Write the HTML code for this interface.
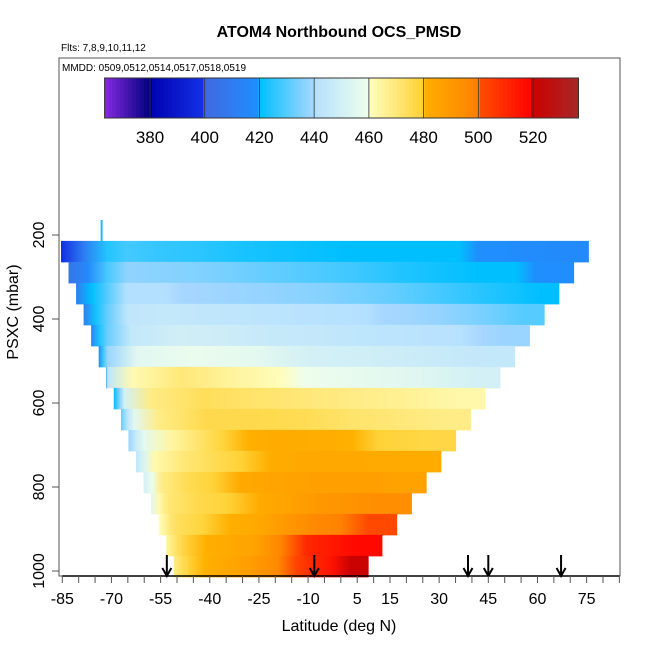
<!DOCTYPE html>
<html><head><meta charset="utf-8"><style>
html,body{margin:0;padding:0;background:#fff;}
svg{display:block;font-family:"Liberation Sans",Arial,sans-serif;}
</style></head><body>
<svg id="chart" width="650" height="650" viewBox="0 0 650 650">
<text x="339" y="37" text-anchor="middle" font-size="16" font-weight="bold">ATOM4 Northbound OCS_PMSD</text>
<text x="61" y="51" font-size="10">Flts: 7,8,9,10,11,12</text>
<g id="plot"></g>
<g id="cbar"></g>
<rect x="59" y="58" width="561" height="518" fill="none" stroke="#555" stroke-width="1"/>
<text x="62" y="71" font-size="10">MMDD: 0509,0512,0514,0517,0518,0519</text>
<g id="axes"></g>
<text x="339" y="631" text-anchor="middle" font-size="16">Latitude (deg N)</text>
<text transform="translate(18,312) rotate(-90)" text-anchor="middle" font-size="16">PSXC (mbar)</text>
</svg>
<script>
// ---- data ----
const rowTopP = [214,264,314,364,414,464,514,564,614,664,714,764,814,864,914,964];
const rowLeftLat = [-85.4,-83.1,-80.8,-78.5,-76.2,-73.9,-71.6,-69.3,-67.1,-64.8,-62.5,-60.2,-57.9,-55.6,-53.3,-51.0];
const rowRightLat = [75.5,71.0,66.5,62.0,57.5,53.0,48.5,44.0,39.5,35.0,30.5,26.0,21.5,17.0,12.5,8.3];
const edgeEndLat = [-71.2,-71.2,-71.2,-71.2,-71.2,-71.2,-71.2,-66,-63,-60,-57,-55,-53,-51,-49,-47];
const edgeStart = [398,405,410,412,414,415,416,420,432,438,444,450,455,460,464,468];
const edgeEnd   = [420,420,420,420,420,421,424,432,442,448,455,460,464,468,472,476];
const rowValues = [
 [428,426,425,423,422,421,420,420,420,420,419,418,417],
 [437,436,435,433,431,429,427,424,422,420,420,419],
 [440,440,439,438,437,436,434,432,429,426,423,420],
 [444,445,444,443,442,441,440,439,437,434,430],
 [445,449,448,446,445,443,442,441,438],
 [455,458,456,450,449,447,445],
 [462,470,465,461,458,456,454,450],
 [468,474,472,470,468,466,463],
 [468,476,476,475,472,470,468],
 [464,478,482,481,479,477],
 [470,479,483,483,482],
 [475,483,486,487,486],
 [476,482,490,494],
 [478,483,496,502],
 [480,486,510,518],
 [480,486,496,510,521]
];
const arrowLats = [-53.1,-8.1,38.8,45.0,67.2];
const xTicks = [-85,-70,-55,-40,-25,-10,5,15,30,45,60,75];
const yTicks = [200,400,600,800,1000];
const cbTicks = [380,400,420,440,460,480,500,520];
const cbMin = 363.4, cbMax = 536.6;

// ---- scales ----
const xs = lat => 62.3 + (lat + 85) * 3.277;
const ys = p => 235 + (p - 200) * 0.42;
const cbx = v => 150 + (v - 380) * 2.736;
const NS = "http://www.w3.org/2000/svg";
function mk(tag, attrs, parent) { const e = document.createElementNS(NS, tag); for (const k in attrs) e.setAttribute(k, attrs[k]); parent.appendChild(e); return e; }

const segs = [
 [363,380,[138,43,226],[0,0,128]],
 [380,400,[0,0,176],[20,50,230]],
 [400,420,[65,105,225],[30,144,255]],
 [420,440,[0,191,255],[170,215,255]],
 [440,460,[180,224,255],[240,255,235]],
 [460,480,[255,255,192],[255,208,48]],
 [480,500,[255,176,0],[255,128,0]],
 [500,520,[255,80,0],[255,0,0]],
 [520,537,[205,0,0],[165,42,42]]
];
function col(v) {
  let s = segs[0];
  for (const g of segs) if (v >= g[0]) s = g;
  let t = (v - s[0]) / (s[1] - s[0]); t = Math.max(0, Math.min(1, t));
  const c = s[2].map((a, i) => Math.round(a + (s[3][i] - a) * t));
  return `rgb(${c[0]},${c[1]},${c[2]})`;
}

// ---- plot cells ----
const plot = document.getElementById('plot');
const defs = mk('defs', {}, plot);
function grad(id, a, b) {
  const lg = mk('linearGradient', { id: id, x1: 0, x2: 1, y1: 0, y2: 0 }, defs);
  mk('stop', { offset: 0, 'stop-color': col(a) }, lg);
  mk('stop', { offset: 0.5, 'stop-color': col((a + b) / 2) }, lg);
  mk('stop', { offset: 1, 'stop-color': col(b) }, lg);
}
rowTopP.forEach((p, r) => {
  const y0 = ys(p), y1 = ys(p + 50);
  const xl = xs(rowLeftLat[r]), xe = xs(edgeEndLat[r]), xr = xs(rowRightLat[r]);
  const vals = rowValues[r];
  grad('eg' + r, edgeStart[r], (edgeEnd[r] + vals[0]) / 2);
  const e = mk('rect', { x: xl, y: y0, width: Math.max(0, xe - xl), height: y1 - y0 + 0.5, fill: `url(#eg${r})` }, plot);
  
  
  const w = (xr - xe) / vals.length;
  vals.forEach((v, i) => {
    const prev = i === 0 ? (edgeEnd[r] + v) / 2 : (vals[i - 1] + v) / 2;
    const next = i === vals.length - 1 ? v : (vals[i + 1] + v) / 2;
    const id = 'cg' + r + '_' + i;
    const lg = mk('linearGradient', { id: id, x1: 0, x2: 1, y1: 0, y2: 0 }, defs);
    mk('stop', { offset: 0, 'stop-color': col(prev) }, lg);
    mk('stop', { offset: 0.5, 'stop-color': col(v) }, lg);
    mk('stop', { offset: 1, 'stop-color': col(next) }, lg);
    const c = mk('rect', { x: xe + i * w, y: y0, width: w + 0.6, height: y1 - y0 + 0.5, fill: `url(#${id})` }, plot);
    
    
  });
});
const mark = mk('line', { x1: xs(-73), x2: xs(-73), y1: 220, y2: 241, stroke: '#22bbee', 'stroke-width': 2 }, plot);



// arrows
const axes = document.getElementById('axes');
arrowLats.forEach((lat, i) => {
  const x = xs(lat);
  const g = mk('g', { stroke: '#000', 'stroke-width': 2, fill: 'none' }, axes);
  
  
  mk('line', { x1: x, x2: x, y1: 555, y2: 576 }, g);
  mk('polyline', { points: `${x - 4.5},568 ${x},576 ${x + 4.5},568` }, g);
});

const xl = mk('line', { x1: xs(-85), x2: xs(85), y1: 576, y2: 576, stroke: '#000', 'stroke-width': 1.5 }, axes);


for (let lat = -85; lat <= 85; lat += 5) {
  const t = mk('line', { x1: xs(lat), x2: xs(lat), y1: 576, y2: 583, stroke: '#555' }, axes);
  
  
}
xTicks.forEach(v => {
  const t = mk('text', { x: xs(v), y: 604, 'text-anchor': 'middle', 'font-size': 16 }, axes);
  t.textContent = v;
  
  
});
yTicks.forEach(v => {
  const y = ys(v);
  const t = mk('line', { x1: 52, x2: 59, y1: y, y2: y, stroke: '#555' }, axes);
  
  
  const l = mk('text', { transform: `translate(44,${y}) rotate(-90)`, 'text-anchor': 'middle', 'font-size': 16 }, axes);
  l.textContent = v;
  
  
});

// ---- colorbar ----
const cb = document.getElementById('cbar');
const N = 120;
for (let i = 0; i < N; i++) {
  const v0 = cbMin + (cbMax - cbMin) * i / N, v1 = cbMin + (cbMax - cbMin) * (i + 1) / N;
  const r = mk('rect', { x: cbx(v0), y: 78, width: cbx(v1) - cbx(v0) + 0.5, height: 40, fill: col((v0 + v1) / 2) }, cb);
  
  
}
const fr = mk('rect', { x: cbx(cbMin), y: 78, width: cbx(cbMax) - cbx(cbMin), height: 40, fill: 'none', stroke: '#333' }, cb);


cbTicks.forEach(v => {
  const l = mk('line', { x1: cbx(v), x2: cbx(v), y1: 78, y2: 118, stroke: '#333', 'stroke-width': 0.8 }, cb);
  
  
  const t = mk('text', { x: cbx(v), y: 143, 'text-anchor': 'middle', 'font-size': 17 }, cb);
  t.textContent = v;
  
  
});
</script>
</body></html>
